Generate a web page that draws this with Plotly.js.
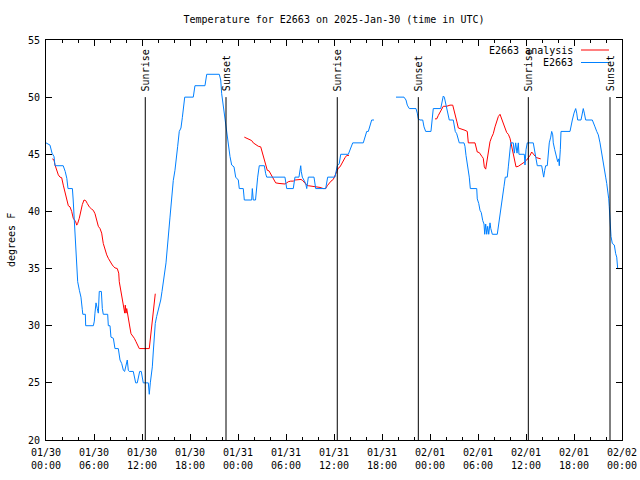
<!DOCTYPE html>
<html>
<head>
<meta charset="utf-8">
<script src="https://cdn.plot.ly/plotly-3.0.1.min.js"></script>
<style>html,body{margin:0;padding:0;background:#fff;}#chart{width:640px;height:480px;}</style>
</head>
<body>
<div id="chart"></div>
<script>
// Hours since 2025-01-30 00:00 UTC
const obsHours = [0.0,0.5,0.75,1.0,1.125,2.15,2.4,2.6,2.75,3.3,3.4,3.55,3.67,3.83,3.96,4.17,4.37,4.54,4.6,4.92,4.96,5.92,6.04,6.12,6.25,6.41,6.54,6.66,6.92,7.04,7.16,7.71,7.79,8.0,8.12,8.42,8.62,9.04,9.25,9.46,9.67,9.83,10.0,10.16,10.29,10.41,10.91,11.08,11.21,11.41,11.62,11.71,11.91,12.04,12.16,12.79,12.91,13.04,13.16,13.29,13.41,13.54,13.66,13.83,14.04,14.16,14.34,14.5,14.66,14.84,15.0,15.12,15.25,15.5,15.71,15.91,16.12,16.34,16.46,16.66,16.87,17.04,17.21,17.34,18.41,18.62,19.87,20.09,21.66,21.84,21.96,22.16,22.37,22.59,22.79,23.0,23.21,23.5,23.71,24.04,24.16,24.66,24.79,25.71,25.79,25.91,26.19,26.34,26.46,26.66,27.29,27.46,27.59,29.87,30.09,30.91,31.04,31.12,31.62,31.75,31.84,31.91,32.04,32.46,32.59,32.69,32.79,33.5,33.62,33.71,34.96,35.09,35.21,36.12,36.25,36.41,36.66,36.84,37.79,38.0,38.21,38.34,39.66,39.87,40.09,40.29,40.5,40.71,41.0,
  42.4,
  43.75,44.75,45.0,45.16,45.41,46.25,46.41,46.54,46.75,47.09,47.25,47.46,48.12,48.25,48.41,49.34,49.46,49.66,49.79,49.91,50.09,50.29,50.41,50.91,51.04,51.16,51.34,51.54,51.66,52.25,52.37,52.5,52.66,52.79,52.91,53.04,53.84,53.91,54.09,54.25,54.41,54.59,54.75,54.84,54.96,55.09,55.21,55.34,55.5,55.6,55.79,56.41,56.59,56.75,56.96,57.09,57.25,57.41,57.66,57.79,57.91,58.09,58.41,58.54,58.71,58.875,59.04,59.12,59.79,59.875,60.0,60.16,60.91,61.04,61.21,61.41,61.96,62.09,62.21,62.34,62.46,62.66,62.79,62.91,63.09,63.21,63.34,63.41,63.59,63.75,63.96,64.09,64.16,64.29,64.375,65.5,65.625,65.79,66.0,66.21,66.34,66.46,66.875,67.0,67.16,67.29,67.46,68.29,68.41,68.625,68.84,69.04,69.25,69.375,69.5,69.66,69.79,69.96,70.09,70.21,70.34,70.41,70.5,70.625,70.79,71.04,71.21,71.34,71.46,71.75];
const obsTemps = [46.0,45.8,45.1,44.8,44.0,44.0,43.5,42.9,42.0,42.0,41.0,39.1,37.2,35.0,33.85,33.1,32.5,31.4,31.0,31.0,30.0,30.0,30.4,31.1,32.0,31.5,31.1,33.0,33.0,31.5,31.0,31.0,30.0,30.0,29.0,28.9,28.0,28.0,27.0,26.7,26.1,26.0,26.6,27.0,26.1,26.0,26.0,25.4,25.0,25.0,25.7,26.0,26.0,25.5,25.0,25.0,24.0,25.0,25.5,26.4,27.7,29.2,30.2,30.8,31.4,31.7,32.25,33.0,34.0,34.7,35.5,36.3,37.5,39.5,41.3,42.7,43.6,44.7,45.7,47.0,47.3,48.2,49.3,50.0,50.0,51.0,51.0,52.0,52.0,51.5,50.3,49.2,48.0,47.3,45.7,44.8,44.06,43.9,43.0,42.75,42.0,42.0,41.0,41.0,42.0,41.0,41.0,42.45,43.0,44.0,44.0,43.3,43.0,43.0,42.0,42.0,42.75,43.0,43.0,43.5,44.0,43.5,43.0,42.45,42.0,42.5,43.0,43.0,42.45,42.0,42.0,42.45,43.0,43.0,43.5,44.0,44.2,45.0,45.0,45.4,45.7,46.0,46.0,46.5,47.0,47.0,47.6,48.0,48.0,
  null,
  50.0,50.0,49.75,49.3,49.0,49.0,48.6,48.1,48.0,48.0,47.4,47.0,47.0,48.0,49.0,49.0,49.45,50.1,50.0,49.6,49.2,48.6,48.0,48.0,47.55,47.0,46.8,46.4,46.0,46.0,45.7,44.9,44.2,43.6,43.0,42.0,42.0,41.1,40.7,40.1,39.9,39.2,38.9,38.0,38.9,38.0,38.7,38.0,39.0,38.5,38.0,38.0,39.0,39.8,40.7,41.4,42.2,43.0,43.0,43.9,44.8,46.0,46.0,45.1,46.0,45.1,46.0,45.0,45.0,44.06,45.4,46.0,46.0,45.4,44.5,44.0,44.0,43.5,43.0,43.6,44.0,44.0,45.1,46.0,46.5,47.0,46.7,46.0,45.4,44.8,44.35,44.6,44.0,45.4,47.0,47.0,47.55,48.0,48.6,49.0,48.6,48.0,48.0,48.6,49.0,48.6,48.0,48.0,47.7,47.4,47.0,46.7,46.0,45.4,44.8,44.06,43.5,43.0,42.45,41.9,41.1,40.4,38.95,37.8,37.2,37.06,36.3,36.0,35.0,35.0];

const anaHours = [0.79,1.0,1.125,1.34,1.54,1.75,1.96,2.16,2.375,2.59,2.79,3.0,3.21,3.41,3.54,3.71,3.84,3.96,4.16,4.34,4.54,4.75,4.96,5.16,5.41,5.71,5.91,6.125,6.34,6.54,6.75,6.96,7.16,7.375,7.59,7.79,8.0,8.21,8.41,8.625,8.91,9.09,9.16,9.34,9.46,9.59,9.75,9.84,9.91,10.0,10.09,10.21,10.34,10.5,10.625,10.84,11.04,11.25,11.46,11.66,12.91,13.04,13.21,13.34,13.5,13.625,13.66,
  19.0,
  24.79,25.16,25.5,25.71,25.91,26.25,26.54,26.84,27.04,27.25,27.46,27.66,27.875,28.09,28.29,28.5,28.71,29.125,29.46,29.875,30.09,30.29,30.59,30.91,31.125,31.41,31.625,31.875,32.09,32.375,32.59,32.79,33.21,33.625,33.84,34.25,34.66,34.96,35.16,35.375,35.625,35.91,36.125,36.34,36.54,36.75,36.96,37.16,37.375,37.59,37.875,
  43.0,
  48.625,48.84,49.04,49.25,49.46,49.66,50.09,50.5,50.84,51.0,51.125,51.34,51.54,51.75,52.16,52.375,52.66,52.79,53.625,53.75,53.91,54.16,54.34,54.5,54.66,54.79,54.96,55.09,55.29,55.5,55.71,55.91,56.125,56.34,56.54,56.75,56.96,57.16,57.375,57.59,57.79,58.0,58.21,58.41,58.625,58.75,59.04,59.46,59.66,59.875,60.09,60.29,60.5,60.71,60.91,61.125,61.34,61.625,61.84];
const anaTemps = [44.6,44.5,44.06,43.6,43.2,43.0,42.95,42.3,41.6,41.0,40.5,40.4,40.0,39.4,39.25,39.1,38.8,38.95,39.4,40.0,40.6,41.0,40.95,40.7,40.4,40.2,40.1,39.8,39.25,38.7,38.5,38.1,37.2,36.6,36.2,35.9,35.6,35.4,35.2,35.06,35.0,34.6,33.85,33.1,32.5,32.0,31.4,31.1,31.8,31.1,31.5,30.9,30.35,29.8,29.3,29.1,28.9,28.6,28.3,28.0,28.0,28.75,29.8,30.8,31.7,32.5,32.8,
  null,
  46.5,46.4,46.3,46.2,46.0,45.8,45.7,45.65,45.2,44.6,44.06,43.6,43.55,43.3,43.0,42.7,42.5,42.45,42.4,42.4,42.5,42.6,42.65,42.65,42.75,42.75,42.8,42.8,42.7,42.45,42.3,42.25,42.2,42.2,42.15,42.1,42.0,42.0,42.25,42.45,42.65,42.8,43.2,43.5,43.8,43.9,44.2,44.5,44.7,44.9,44.9,
  null,
  48.1,48.1,48.4,48.7,49.0,49.2,49.2,49.3,49.3,48.9,48.4,47.9,47.3,47.25,47.2,47.1,47.0,46.0,46.0,45.5,45.2,45.15,44.9,44.8,44.65,43.9,43.7,44.35,45.2,46.1,46.5,46.8,47.4,47.85,48.3,48.5,48.15,47.7,47.3,46.9,46.75,46.4,45.7,44.9,44.06,43.9,43.95,44.15,44.2,44.35,44.5,44.65,44.9,45.2,45.0,44.85,44.7,44.65,44.6];

const sunHours = [12.41, 22.5, 36.41, 46.54, 60.29, 70.5];
const sunLabels = ["Sunrise","Sunset","Sunrise","Sunset","Sunrise","Sunset"];

const tickHours = [0,6,12,18,24,30,36,42,48,54,60,66,72];
const tickLabels = ["01/30<br>00:00","01/30<br>06:00","01/30<br>12:00","01/30<br>18:00","01/31<br>00:00","01/31<br>06:00","01/31<br>12:00","01/31<br>18:00","02/01<br>00:00","02/01<br>06:00","02/01<br>12:00","02/01<br>18:00","02/02<br>00:00"];

const seriesNames = ["E2663 analysis", "E2663"];
const seriesColors = ["#ff0000", "#0080ff"];

const FONT = {family: "DejaVu Sans Mono, monospace", size: 10, color: "#000"};

const traces = [
  {x: anaHours, y: anaTemps, name: seriesNames[0], mode: "lines", line: {color: seriesColors[0], width: 1}, connectgaps: false, showlegend: false},
  {x: obsHours, y: obsTemps, name: seriesNames[1], mode: "lines", line: {color: seriesColors[1], width: 1}, connectgaps: false, showlegend: false}
];

const shapes = [];
const annotations = [];
sunHours.forEach((h, i) => {
  shapes.push({type: "line", xref: "x", yref: "y", x0: h, x1: h, y0: 50, y1: 20, line: {color: "#000", width: 1}});
  annotations.push({xref: "x", yref: "y", x: h, y: 50, text: sunLabels[i], textangle: -90, showarrow: false,
    xanchor: "center", yanchor: "bottom", yshift: 4, font: FONT});
});

// legend (gnuplot style: text left of sample)
const legY = [0.975, 0.94375];
seriesNames.forEach((n, i) => {
  annotations.push({xref: "paper", yref: "paper", x: 0.9184, y: legY[i], text: n, showarrow: false,
    xanchor: "right", yanchor: "middle", font: FONT});
  shapes.push({type: "line", xref: "paper", yref: "paper", x0: 0.9288, x1: 0.9774, y0: legY[i], y1: legY[i],
    line: {color: seriesColors[i], width: 1}});
});

annotations.push({xref: "paper", yref: "paper", x: 0, y: 0.5, xshift: -35, text: "degrees F", textangle: -90,
  showarrow: false, xanchor: "center", yanchor: "middle", font: FONT});

const layout = {
  width: 640, height: 480,
  margin: {l: 46, r: 18, t: 40, b: 40, pad: 0},
  paper_bgcolor: "#fff", plot_bgcolor: "#fff",
  font: FONT,
  showlegend: false,
  title: {text: "Temperature for E2663 on 2025-Jan-30 (time in UTC)", font: FONT, x: 0.5, xref: "paper", xanchor: "center", y: 1 - 19/480, yref: "container", yanchor: "middle"},
  xaxis: {range: [0, 72], tickmode: "array", tickvals: tickHours, ticktext: tickLabels, ticks: "inside", ticklen: 6,
    tickcolor: "#000", showline: true, linecolor: "#000", linewidth: 1, mirror: "ticks", showgrid: false, zeroline: false,
    ticklabelstandoff: 3,
    minor: {tickmode: "linear", tick0: 0, dtick: 2, ticks: "inside", ticklen: 3, tickcolor: "#000", showgrid: false},
    tickfont: FONT, fixedrange: true},
  yaxis: {range: [20, 55], tickmode: "linear", tick0: 20, dtick: 5, ticks: "inside", ticklen: 6, tickcolor: "#000",
    showline: true, linecolor: "#000", linewidth: 1, mirror: "ticks", showgrid: false, zeroline: false,
    ticklabelstandoff: 3,
    tickfont: FONT, fixedrange: true},
  shapes: shapes,
  annotations: annotations
};

Plotly.newPlot("chart", traces, layout, {displayModeBar: false, staticPlot: true});
</script>
</body>
</html>
